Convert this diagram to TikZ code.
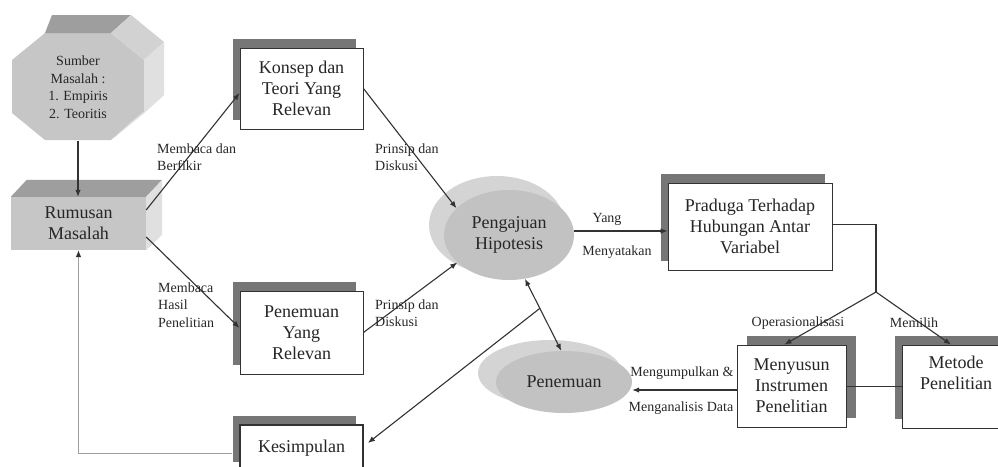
\documentclass[tikz,border=0pt]{standalone}
\usepackage{fontspec}
\setmainfont{Liberation Serif}
\usetikzlibrary{arrows.meta,shapes.geometric,shadows,calc}
\definecolor{ink}{RGB}{50,50,50}
\definecolor{shade}{RGB}{118,118,118}
\definecolor{frontg}{RGB}{198,198,198}
\definecolor{topg}{RGB}{158,158,158}
\definecolor{sideg}{RGB}{224,224,224}
\definecolor{diagg}{RGB}{210,210,210}
\definecolor{ellfront}{RGB}{194,194,194}
\definecolor{ellback}{RGB}{212,212,212}
\begin{document}
\begin{tikzpicture}[x=1pt,y=-1pt,
  boxtext/.style={font=\fontsize{18}{21}\selectfont, text=black!85, align=center},
  card/.style={boxtext, draw=ink, line width=0.9pt, fill=white, inner sep=0pt},
  shadowL/.style={general shadow={fill=shade, shadow xshift=-7pt, shadow yshift=9pt}},
  shadowR/.style={general shadow={fill=shade, shadow xshift=9.5pt, shadow yshift=9pt}},
  lbl/.style={font=\fontsize{14}{17.5}\selectfont, text=black!85, align=left, inner sep=0pt},
  conn/.style={draw=ink, line width=1.1pt},
  thinconn/.style={draw=ink, line width=0.7pt},
  arr/.style={conn, -{Latex[length=7pt,width=5.5pt]}},
  feedback/.style={draw=gray!75, line width=0.8pt, -{Latex[length=7pt,width=5.5pt,color=ink]}},
]
\useasboundingbox (0,0) rectangle (998,466);
\clip (0,0) rectangle (998,466);

% Sumber Masalah (3D octagon)
\fill[frontg] (45,33) -- (111,33) -- (144,60) -- (144,113) -- (111,140) -- (45,140) -- (12,113) -- (12,60) -- cycle;
\fill[topg] (45,33) -- (111,33) -- (131,15) -- (52,15) -- cycle;
\fill[diagg] (111,33) -- (131,15) -- (164,42) -- (144,60) -- cycle;
\fill[sideg] (144,60) -- (164,42) -- (164,95) -- (144,113) -- cycle;
\fill[sideg] (144,113) -- (164,95) -- (131,122) -- (111,140) -- cycle;
\node[font=\fontsize{14}{17.5}\selectfont, text=black!85, align=center, minimum width=132pt, minimum height=107pt, inner sep=0pt] (sumber) at (78,87) {Sumber\\Masalah :\\1. Empiris\\2. Teoritis};

% Rumusan Masalah (3D box)
\node[boxtext, fill=frontg, minimum width=135pt, minimum height=53pt, inner sep=0pt] (rumusan) at (78.5,223.5) {Rumusan\\Masalah};
\fill[topg] (rumusan.north west) -- (rumusan.north east) -- ++(16,-17) -- ([shift={(16pt,17pt)}]rumusan.north west) -- cycle;
\fill[sideg] (rumusan.north east) -- ++(16,-17) -- ++(0,55) -- (rumusan.south east) -- cycle;

% boxes
\node[card, shadowL, minimum width=123pt, minimum height=81pt] (konsep) at (301.5,88.5) {Konsep dan\\Teori Yang\\Relevan};
\node[card, shadowL, minimum width=123pt, minimum height=83pt] (penrel) at (301.5,332.5) {Penemuan\\Yang\\Relevan};
\node[card, shadowL, line width=1.8pt, minimum width=123pt, minimum height=46pt] (kesimpulan) at (301.5,448) {Kesimpulan};
\node[card, shadowL, minimum width=164pt, minimum height=87pt] (praduga) at (750,226.5) {Praduga Terhadap\\Hubungan Antar\\Variabel};
\node[card, shadowR, minimum width=109pt, minimum height=82pt] (menyusun) at (791.5,386) {Menyusun\\Instrumen\\Penelitian};
\node[card, shadowL, minimum width=108pt, minimum height=83pt] (metode) at (956,386.5) {Metode\\Penelitian\\\strut};

% ellipses
\fill[ellback] (497,225) ellipse [x radius=68pt, y radius=49pt];
\node[ellipse, fill=ellfront, minimum width=130pt, minimum height=90pt, inner sep=0pt, boxtext] (pengajuan) at (509,235) {Pengajuan\\Hipotesis};
\fill[ellback] (550,373) ellipse [x radius=72pt, y radius=33pt];
\node[ellipse, fill=ellfront, minimum width=136pt, minimum height=62pt, inner sep=0pt, boxtext] (penemuan) at (564,382) {Penemuan};

% connectors
\draw[arr] (sumber.south) -- (sumber.south |- rumusan.north);
\draw[arr] ([yshift=13.5pt]rumusan.east) -- ([yshift=-4.5pt]konsep.west);
\draw[arr] ([yshift=-13.5pt]rumusan.east) -- ([yshift=4.5pt]penrel.west);
\draw[arr] (konsep.east) -- (pengajuan.153);
\draw[arr] (penrel.east) -- (pengajuan.208);
\coordinate (ya) at ([yshift=4pt]pengajuan.east);
\draw[arr] (ya) -- (ya -| praduga.west);
\coordinate (br) at (876,292);
\draw[conn] ([yshift=2pt]praduga.east) -| (br);
\draw[arr] (br) -- ([xshift=-7pt]menyusun.north);
\draw[arr] (br) -- ([xshift=-5pt]metode.north);
\draw[thinconn] (menyusun.east) -- (menyusun.east -| metode.west);
\coordinate (mg) at ([yshift=-4pt]menyusun.west);
\draw[arr] (mg) -- (mg -| penemuan.east);
\draw[conn, {Latex[length=7pt,width=5.5pt]}-{Latex[length=7pt,width=5.5pt]}] (pengajuan.290) -- (penemuan.95);
\coordinate (jn) at ($(pengajuan.290)!0.41!(penemuan.95)$);
\draw[arr] (jn) -- ([xshift=4pt,yshift=5pt]kesimpulan.east);
\draw[feedback] ([xshift=-7pt,yshift=-5pt]kesimpulan.west) -| (rumusan.south);

% labels
\node[lbl, anchor=west] (l1) at (157,157) {Membaca dan\\Berfikir};
\node[lbl, anchor=west] (l2) at (158,305) {Membaca\\Hasil\\Penelitian};
\node[lbl, anchor=west] (l3) at (375,157) {Prinsip dan\\Diskusi};
\node[lbl, anchor=west] (l4) at (375,313) {Prinsip dan\\Diskusi};
\node[lbl] (l5) at (607,219) {Yang};
\node[lbl] (l6) at (617,252) {Menyatakan};
\node[lbl] (l7) at (798,323) {Operasionalisasi};
\node[lbl] (l8) at (914,323) {Memilih};
\node[lbl] (l9) at (682,373) {Mengumpulkan \&};
\node[lbl] (l10) at (681,408) {Menganalisis Data};
\end{tikzpicture}
\end{document}
